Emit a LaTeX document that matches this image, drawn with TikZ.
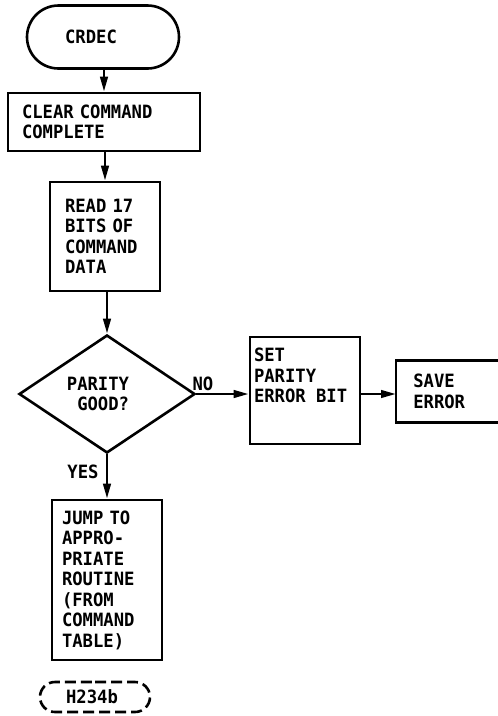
\documentclass[tikz,border=0pt]{standalone}
\usepackage{fontspec}
\setmainfont{DejaVu Sans Mono}[FakeStretch=0.94]
\usetikzlibrary{shapes.geometric,shapes.misc,arrows.meta}
\begin{document}
\begin{tikzpicture}[x=1pt,y=-1pt, line width=2.6pt,
  font=\fontsize{18.3}{20.5}\selectfont\bfseries,
  box/.style={draw, rectangle, inner ysep=0pt, align=left},
  arr/.style={-{Triangle[length=15pt,width=7.5pt]}},
  lbl/.style={inner sep=0pt}]
\useasboundingbox (0,0) rectangle (498,716);
\node[draw, rounded rectangle, minimum width=152pt, minimum height=63pt, inner sep=0pt] (term) at (103,37) {CRDEC\hspace*{24pt}};
\node[box, minimum width=192pt, minimum height=58pt, text width=164pt, inner xsep=14pt] (clear) at (104,122) {CLEAR COMMAND\\COMPLETE};
\node[box, minimum width=110pt, minimum height=109pt, text width=80pt, inner xsep=15pt] (read) at (105,236.5) {READ 17\\BITS OF\\COMMAND\\DATA};
\node[draw, diamond, minimum width=176pt, minimum height=118pt, inner sep=0pt, aspect=1.49, align=right] (dec) at (107,394) {PARITY\hspace*{18pt}\\GOOD?\hspace*{18pt}};
\node[box, minimum width=110pt, minimum height=107pt] (set) at (305,390.5) {};
\node[lbl, anchor=north west, align=left, xshift=4pt, yshift=-11pt] (settext) at (set.north west) {SET\\PARITY\\ERROR BIT};
\node[minimum width=118pt, minimum height=59pt, text width=86pt, inner xsep=16pt, inner ysep=0pt, align=left, anchor=west] (save) at (396,391.5) {SAVE\\ERROR};
\draw (save.north east) -- (save.north west) -- (save.south west) -- (save.south east);
\node[box, minimum width=110pt, minimum height=160pt, text width=90pt, inner xsep=10pt] (jump) at (107,580) {JUMP TO\\APPRO-\\PRIATE\\ROUTINE\\(FROM\\COMMAND\\TABLE)};
\node[lbl] (no) at (203,384) {NO};
\node[lbl] (yes) at (83,472) {YES};
\node[draw, dash pattern=on 11pt off 5pt, rounded rectangle, minimum width=110pt, minimum height=30pt, inner sep=0pt] (h) at (95,697) {H234b\hspace*{6pt}};
\draw[arr] (term.south -| clear.north) -- (clear.north);
\draw[arr] (clear.south -| read.north) -- (read.north);
\draw[arr] (read.south -| dec.north) -- (dec.north);
\draw[arr] (dec.east) -- (set.west |- dec.east);
\draw[arr] (set.east |- dec.east) -- (save.west |- dec.east);
\draw[arr] (dec.south) -- (jump.north);
\end{tikzpicture}
\end{document}
